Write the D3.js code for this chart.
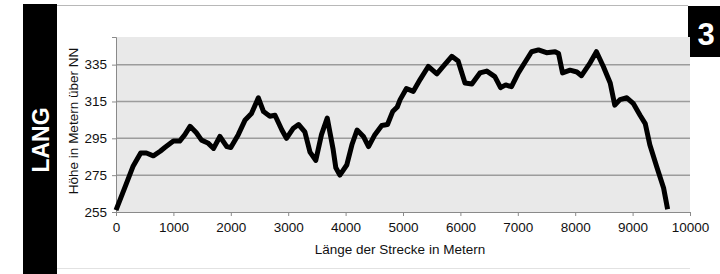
<!DOCTYPE html>
<html>
<head>
<meta charset="utf-8">
<script src="https://cdn.jsdelivr.net/npm/d3@7"></script>
<style>
  body { margin: 0; background: #fff; }
  svg { display: block; font-family: "Liberation Sans", Arial, sans-serif; }
</style>
</head>
<body>
<div class="chart"></div>
<script>
const width = 720;
const height = 274;
const margin = {top: 37, right: 30, bottom: 62, left: 116}
const innerWidth = width - margin.left - margin.right;
const innerHeight = height - margin.top - margin.bottom;

const xAxisLabel = 'Länge der Strecke in Metern'
const yAxisLabel = 'Höhe in Metern über NN'
const sideLabel = 'LANG'
const badgeLabel = '3'

// distance along the route (m) and height (m)
const distance = [0, 150, 300, 430, 530, 650, 770, 850, 1000, 1110, 1200, 1290, 1400, 1490, 1600,
  1700, 1810, 1930, 2000, 2130, 2250, 2360, 2480, 2570, 2680, 2770, 2890, 2970, 3090, 3180,
  3290, 3380, 3480, 3580, 3680, 3780, 3830, 3900, 4020, 4110, 4200, 4310, 4400, 4510, 4630,
  4730, 4820, 4900, 4950, 5060, 5180, 5300, 5440, 5590, 5700, 5850, 5960, 6080, 6200, 6340,
  6460, 6600, 6700, 6790, 6890, 7010, 7120, 7240, 7360, 7500, 7650, 7710, 7780, 7910, 8030,
  8110, 8260, 8370, 8490, 8610, 8690, 8780, 8900, 9010, 9130, 9220, 9300, 9420, 9540, 9610]
const elevation = [256, 268, 280, 287, 287, 285.5, 288, 290, 293.5, 293.5, 297, 301.5, 298, 294, 292.5,
  289.5, 296, 290.5, 290, 297, 305, 308.5, 317, 309.5, 307, 307.5, 299.5, 295, 300.5, 302.5,
  298.5, 287.5, 283, 297, 306, 289.5, 279, 275, 280.5, 291.5, 299.5, 296, 290.5, 297, 302,
  302.5, 309.5, 312, 316, 322, 320.5, 327, 334, 330, 334, 339.5, 337, 325, 324.5, 330.5,
  331.5, 328.5, 322.5, 324, 323, 330.5, 336, 342, 343, 341.5, 342, 341, 330.5, 332, 331,
  329, 336, 342, 334, 325, 313, 316, 317, 314, 307.5, 303, 291.5, 279.5, 268, 256.5]

const xTicks = [0, 1000, 2000, 3000, 4000, 5000, 6000, 7000, 8000, 9000, 10000]
const yTicks = [255, 275, 295, 315, 335]

const data = distance.map((d, i) => [d, elevation[i]]);

const svg = d3.select('.chart')
  .append('svg')
  .attr('width', width)
  .attr('height', height)

// thin grey edges of the chart frame (top and bottom only)
svg.append('line')
  .attr('x1', 57).attr('x2', 688)
  .attr('y1', 5.5).attr('y2', 5.5)
  .attr('stroke', '#b8b8b8')
svg.append('line')
  .attr('x1', 57).attr('x2', 690)
  .attr('y1', 268.5).attr('y2', 268.5)
  .attr('stroke', '#e2e2e2')

// black side bar with the route name
svg.append('rect')
  .attr('x', 23).attr('y', 4)
  .attr('width', 34).attr('height', height - 4)
  .attr('fill', '#000')

svg.append('text')
  .attr('transform', 'translate(48.5,140) rotate(-90)')
  .attr('text-anchor', 'middle')
  .attr('fill', '#fff')
  .attr('font-weight', 'bold')
  .attr('font-size', 23)
  .text(sideLabel)

// number badge top right
svg.append('rect')
  .attr('x', 688).attr('y', 6)
  .attr('width', 32).attr('height', 51)
  .attr('fill', '#000')

svg.append('text')
  .attr('x', 706).attr('y', 45)
  .attr('text-anchor', 'middle')
  .attr('fill', '#fff')
  .attr('font-weight', 'bold')
  .attr('font-size', 31)
  .text(badgeLabel)

const xScale = d3.scaleLinear()
  .domain([0, 10000])
  .range([0, innerWidth])

const yScale = d3.scaleLinear()
  .domain([255, 350])
  .range([innerHeight, 0])

const g = svg.append('g')
  .attr('transform', `translate(${margin.left},${margin.top})`)

// plot background
g.append('rect')
  .attr('width', innerWidth)
  .attr('height', innerHeight)
  .attr('fill', '#e9e9e9')

// horizontal grid lines
g.append('g')
  .selectAll('line')
  .data(yTicks.slice(1))
  .join('line')
    .attr('x1', 0).attr('x2', innerWidth)
    .attr('y1', d => yScale(d)).attr('y2', d => yScale(d))
    .attr('stroke', '#9c9c9c')
    .attr('stroke-width', 1.5)

const xAxis = d3.axisBottom(xScale).tickValues(xTicks).tickFormat(d3.format('d')).tickSize(4).tickPadding(6)
const yAxis = d3.axisLeft(yScale).tickValues(yTicks).tickFormat(d3.format('d')).tickSize(4).tickPadding(5)

// d3 puts font settings (and fill none) on the axis group, so override them there
const styleAxis = sel => {
  sel.attr('font-size', 13.5)
    .attr('font-family', '"Liberation Sans", Arial, sans-serif')
    .attr('fill', '#111')
  sel.select('.domain').attr('stroke', '#8a8a8a').attr('fill', 'none')
  sel.selectAll('.tick line').attr('stroke', '#8a8a8a')
  sel.selectAll('.tick text').attr('fill', '#111')
}

g.append('g')
  .attr('transform', `translate(0,${innerHeight})`)
  .call(xAxis)
  .call(styleAxis)

g.append('g')
  .call(yAxis)
  .call(styleAxis)

// the profile line
const line = d3.line()
  .x(d => xScale(d[0]))
  .y(d => yScale(d[1]))

g.append('path')
  .datum(data)
  .attr('d', line)
  .attr('fill', 'none')
  .attr('stroke', '#000')
  .attr('stroke-width', 5)
  .attr('stroke-linejoin', 'round')

// axis titles
svg.append('text')
  .attr('x', margin.left + xScale(5000) - 3)
  .attr('y', 254)
  .attr('text-anchor', 'middle')
  .attr('fill', '#111')
  .attr('font-size', 13.5)
  .text(xAxisLabel)

svg.append('text')
  .attr('transform', 'translate(78,121) rotate(-90)')
  .attr('text-anchor', 'middle')
  .attr('fill', '#111')
  .attr('font-size', 13.5)
  .text(yAxisLabel)
</script>
</body>
</html>
